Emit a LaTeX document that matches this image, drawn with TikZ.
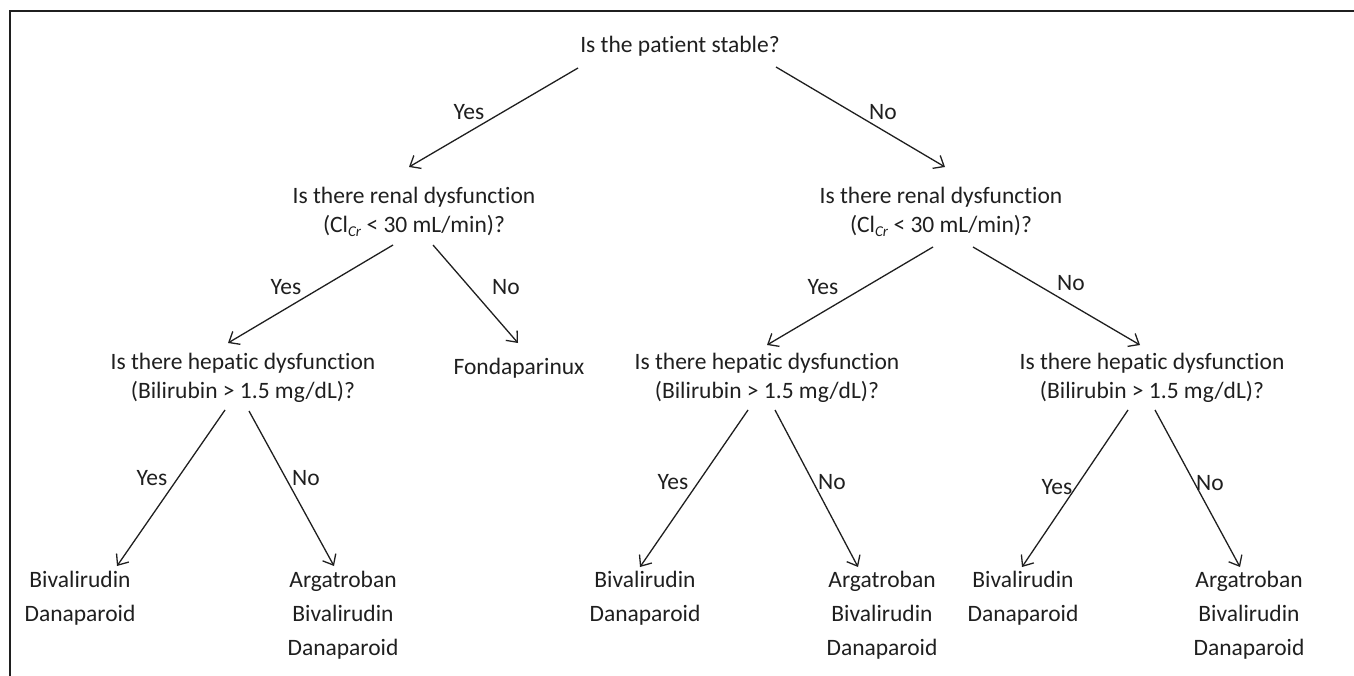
\documentclass[tikz,border=0pt]{standalone}
\usepackage{fontspec}
\setmainfont{Carlito}[Ligatures=NoCommon]
\usetikzlibrary{arrows.meta,calc}
\definecolor{ink}{gray}{0.12}
\tikzset{
  q/.style={inner sep=0pt, align=center, text=ink, font=\fontsize{23.5}{29}\selectfont},
  leaf/.style={inner sep=0pt, align=center, text=ink, anchor=north, font=\fontsize{23.5}{34}\selectfont},
  lbl/.style={inner sep=0pt, text=ink, font=\fontsize{23.5}{29}\selectfont},
  arr/.style={draw=ink, line width=1.3pt, -{Straight Barb[length=9pt,width=15pt,line width=1.3pt]}},
  frame/.style={draw=ink, line width=1.3pt}
}
\begin{document}
\begin{tikzpicture}[x=1pt,y=-1pt]
\useasboundingbox (0,0) rectangle (1354,676);
\draw[frame] (10,676) -- (10,11) -- (1354,11);

\node[q] (root) at (680,46) {Is the patient stable?};
\node[q] (rl) at (414,212) {Is there renal dysfunction\\(Cl{\fontsize{15}{15}\selectfont\raisebox{-4pt}{\textit{Cr}}} < 30 mL/min)?};
\node[q] (rr) at (941,212) {Is there renal dysfunction\\(Cl{\fontsize{15}{15}\selectfont\raisebox{-4pt}{\textit{Cr}}} < 30 mL/min)?};
\node[q] (fonda) at (519,368) {Fondaparinux};
\node[q] (hl) at (243,378) {Is there hepatic dysfunction\\(Bilirubin > 1.5 mg/dL)?};
\node[q] (hm) at (767,378) {Is there hepatic dysfunction\\(Bilirubin > 1.5 mg/dL)?};
\node[q] (hr) at (1152,378) {Is there hepatic dysfunction\\(Bilirubin > 1.5 mg/dL)?};

\node[leaf] (b1) at (80,571) {Bivalirudin\\Danaparoid};
\node[leaf] (b2) at (343,571) {Argatroban\\Bivalirudin\\Danaparoid};
\node[leaf] (b3) at (645,571) {Bivalirudin\\Danaparoid};
\node[leaf] (b4) at (882,571) {Argatroban\\Bivalirudin\\Danaparoid};
\node[leaf] (b5) at (1023,571) {Bivalirudin\\Danaparoid};
\node[leaf] (b6) at (1249,571) {Argatroban\\Bivalirudin\\Danaparoid};

% connectors
\draw[arr] ($(root)+(-102,22)$) -- ($(rl)+(-5,-45)$);
\draw[arr] ($(root)+(96,21)$) -- ($(rr)+(4,-45)$);
\draw[arr] ($(rl)+(-21,33)$) -- ($(hl)+(-15,-35)$);
\draw[arr] ($(rl)+(19,33)$) -- ($(fonda)+(-1,-25)$);
\draw[arr] ($(rr)+(-8,35)$) -- ($(hm)+(0,-33)$);
\draw[arr] ($(rr)+(32,35)$) -- ($(hr)+(-12,-33)$);
\draw[arr] ($(hl)+(-18,32)$) -- ($(b1.north)+(37,-5)$);
\draw[arr] ($(hl)+(6,33)$) -- ($(b2.north)+(-9,-5)$);
\draw[arr] ($(hm)+(-19,32)$) -- ($(b3.north)+(-5,-4)$);
\draw[arr] ($(hm)+(8,32)$) -- ($(b4.north)+(-24,-4)$);
\draw[arr] ($(hr)+(-24,32)$) -- ($(b5.north)+(-1,-4)$);
\draw[arr] ($(hr)+(3,32)$) -- ($(b6.north)+(-9,-4)$);

% labels
\node[lbl] (l1) at (469,112) {Yes};
\node[lbl] (l2) at (883,112) {No};
\node[lbl] (l3) at (286,287) {Yes};
\node[lbl] (l4) at (506,287) {No};
\node[lbl] (l5) at (823,287) {Yes};
\node[lbl] (l6) at (1071,283) {No};
\node[lbl] (l7) at (152,478) {Yes};
\node[lbl] (l8) at (306,478) {No};
\node[lbl] (l9) at (673,482) {Yes};
\node[lbl] (l10) at (832,482) {No};
\node[lbl] (l11) at (1057,487) {Yes};
\node[lbl] (l12) at (1210,483) {No};
\end{tikzpicture}
\end{document}
